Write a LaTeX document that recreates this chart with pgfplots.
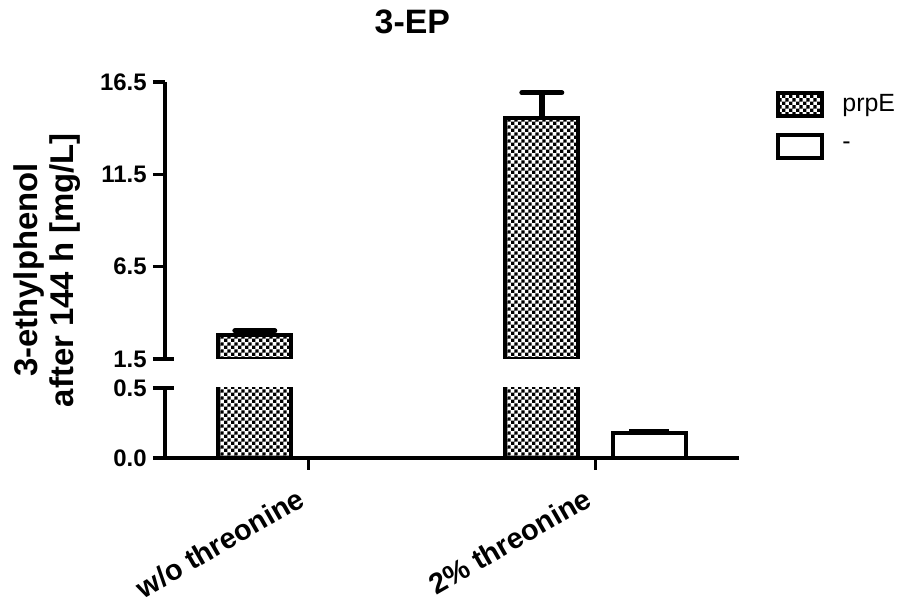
\documentclass[border=0pt]{standalone}
\usepackage{pgfplots}
\pgfplotsset{compat=1.18}
\usepackage{pgfplotstable}
\usepackage{fontspec}
\setmainfont{Liberation Sans}
\usetikzlibrary{patterns}
\pgfdeclarepatternformonly{finecheck}{\pgfpointorigin}{\pgfqpoint{3.4bp}{3.4bp}}{\pgfqpoint{3.4bp}{3.4bp}}{%
 \pgfpathrectangle{\pgfpointorigin}{\pgfqpoint{1.7bp}{1.7bp}}%
 \pgfpathrectangle{\pgfqpoint{1.7bp}{1.7bp}}{\pgfqpoint{1.7bp}{1.7bp}}%
 \pgfusepath{fill}}

% bars placed at group position -/+ 0.187 (prpE left, "-" right)
\pgfplotstableread{
x y e
-0.187 2.80 0.22
0.813 14.55 1.37
}\prpEdata
\pgfplotstableread{
x y e
1.187 0.18 0.015
}\minusdata

\pgfplotsset{
 common/.style={
   scale only axis, width=287bp, xmin=-0.5, xmax=1.5,
   axis line style={line width=1.75bp, -},
   every tick/.style={line width=1.75bp, black},
   tick align=outside,
   major tick length=6bp,
   yticklabel style={font=\bfseries\fontsize{12}{14}\selectfont, inner sep=0pt, xshift=-3bp},
 },
 prpEbar/.style={ybar, bar width=0.254, bar shift=0, draw=black, line width=2bp, pattern=finecheck, pattern color=black},
 minusbar/.style={ybar, bar width=0.254, bar shift=0, draw=black, line width=2bp, fill=white},
 legimg/.style={legend image code/.code={\draw[##1, line width=2bp] (0bp,-5.75bp) rectangle (22bp,5.75bp);}},
}

\begin{document}
\begin{tikzpicture}
\path[use as bounding box] (-82.5bp,-71.5bp) rectangle (372.5bp,229bp);

% lower segment
\begin{axis}[common, at={(0,0)}, anchor=south west, height=35bp,
 ymin=0, ymax=0.5, axis lines*=left,
 ytick={0,0.5}, yticklabels={0.0,0.5},
 extra y ticks={0.5}, extra y tick labels={}, extra y tick style={tick align=inside, major tick length=4.5bp},
 xtick={0,1}, xticklabels={w/o threonine, 2\% threonine},
 xticklabel style={rotate=30, anchor=north east, font=\bfseries\fontsize{14.5}{17}\selectfont, inner sep=0pt, xshift=-9.5bp, yshift=-4bp},
]
\addplot[prpEbar, forget plot] table[x=x,y=y]{\prpEdata};
\addplot[minusbar, forget plot, error bars/.cd, y dir=plus, y explicit,
  error bar style={line width=1.5bp},
  error mark options={rotate=90, mark size=10bp, line width=1.5bp}] table[x=x,y=y,y error=e]{\minusdata};
\end{axis}

% upper segment
\begin{axis}[common, at={(0,49.5bp)}, anchor=south west, height=138.5bp,
 ymin=1.5, ymax=16.5, axis x line=none, axis y line*=left, xtick=\empty,
 ytick={1.5,6.5,11.5,16.5}, yticklabels={1.5,6.5,11.5,16.5},
 extra y ticks={1.5}, extra y tick labels={}, extra y tick style={tick align=inside, major tick length=4.5bp},
 title={3-EP},
 title style={at={(axis description cs:0.431,1.173)}, anchor=center, font=\bfseries\fontsize{17}{20}\selectfont},
 ylabel={3-ethylphenol\\after 144 h [mg/L]},
 ylabel style={at={(axis description cs:-0.2047,0.321)}, anchor=center, align=center, font=\bfseries\fontsize{16.5}{18}\selectfont},
 legend style={at={(axis description cs:1.0645,0.9675)}, anchor=north west, draw=none, fill=none, inner sep=0pt,
   font=\fontsize{12.5}{15}\selectfont, row sep=7.5bp, column sep=9bp, nodes={inner sep=0pt}},
 legend cell align=left,
]
\addplot[prpEbar, legimg, error bars/.cd, y dir=plus, y explicit,
  error bar style={line width=3bp},
  error mark options={rotate=90, mark size=10bp, line width=2.5bp, line cap=round}] table[x=x,y=y,y error=e]{\prpEdata};
\addlegendentry{prpE}
\addlegendimage{minusbar, legimg}
\addlegendentry{-}
\end{axis}
\end{tikzpicture}
\end{document}
